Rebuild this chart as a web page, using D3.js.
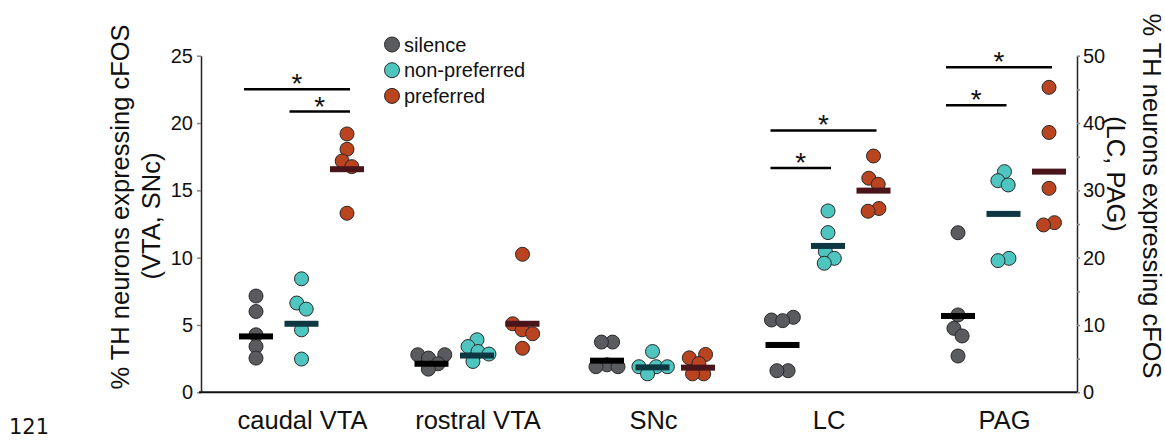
<!DOCTYPE html>
<html>
<head>
<meta charset="utf-8">
<script src="https://cdn.jsdelivr.net/npm/d3@7"></script>
<style>
  html, body { margin: 0; padding: 0; background: #fff; }
  svg { display: block; }
  text { font-family: "Liberation Sans", Arial, Helvetica, sans-serif; fill: #111; }
</style>
</head>
<body>
<svg id="chart" width="1165" height="440"></svg>
<script>
// Brain regions along the x axis and the three stimulus conditions
const categories = ["caudal VTA", "rostral VTA", "SNc", "LC", "PAG"];
const series = ["silence", "non-preferred", "preferred"];
// Which y axis each region is read against
const regionAxis = ["left", "left", "left", "right", "right"];

// Per-animal % of TH neurons expressing cFOS, one inner array per region
const silenceValues = [
  [7.15, 6.0, 4.27, 3.4, 2.54],
  [2.79, 2.79, 2.54, 2.12, 1.72],
  [3.73, 3.73, 2.04, 1.9, 1.9],
  [11.14, 10.74, 10.64, 3.21, 3.21],
  [23.7, 11.49, 9.5, 8.37, 5.39]
];
const nonPreferredValues = [
  [8.43, 6.63, 6.18, 4.64, 2.47],
  [3.9, 3.4, 3.03, 2.84, 2.29],
  [3.03, 1.9, 1.9, 1.9, 1.37],
  [26.94, 23.72, 20.9, 19.9, 19.17],
  [32.78, 31.44, 30.8, 19.9, 19.56]
];
const preferredValues = [
  [19.19, 18.05, 17.18, 16.76, 13.3],
  [10.25, 5.09, 4.64, 4.35, 3.27],
  [2.81, 2.56, 2.14, 1.37, 1.37],
  [35.1, 31.8, 30.9, 27.3, 26.9],
  [45.3, 38.6, 30.3, 25.2, 24.86]
];

// Group means shown as horizontal bars
const silenceMeans = [4.15, 2.12, 2.35, 7.03, 11.34];
const nonPreferredMeans = [5.09, 2.73, 1.85, 21.74, 26.5];
const preferredMeans = [16.57, 5.09, 1.83, 29.96, 32.78];

// Tick values for both y axes
const leftTicks = [0, 5, 10, 15, 20, 25];
const rightTicks = [0, 5, 10, 15, 20, 25, 30, 35, 40, 45, 50];

// Significant pairwise comparisons: region, pair of conditions, bracket height (axis units)
const comparisons = [
  { region: "caudal VTA", from: "silence", to: "preferred", level: 22.5 },
  { region: "caudal VTA", from: "non-preferred", to: "preferred", level: 20.85 },
  { region: "LC", from: "silence", to: "preferred", level: 38.9 },
  { region: "LC", from: "silence", to: "non-preferred", level: 33.3 },
  { region: "PAG", from: "silence", to: "preferred", level: 48.3 },
  { region: "PAG", from: "silence", to: "non-preferred", level: 42.65 }
];

const valuesBySeries = [silenceValues, nonPreferredValues, preferredValues];
const meansBySeries = [silenceMeans, nonPreferredMeans, preferredMeans];

const dotFill = { "silence": "#5a5b5e", "non-preferred": "#4fc5c0", "preferred": "#ba4320" };
const meanFill = { "silence": "#000000", "non-preferred": "#0d3842", "preferred": "#4a151a" };

const svg = d3.select("#chart");
const frame = { left: 201, right: 1077, top: 55.7, bottom: 392.3 };

const yLeft = d3.scaleLinear().domain([0, 25]).range([frame.bottom, frame.top]);
const yRight = d3.scaleLinear().domain([0, 50]).range([frame.bottom, frame.top]);
const x = d3.scalePoint().domain(categories).range([302, 1004]);
const xSub = d3.scalePoint().domain(series).range([-46, 45]);
const yFor = region => regionAxis[categories.indexOf(region)] === "left" ? yLeft : yRight;

// Left axis
const gLeft = svg.append("g")
  .attr("transform", `translate(${frame.left},0)`)
  .call(d3.axisLeft(yLeft).tickValues(leftTicks).tickSize(4).tickSizeOuter(0).tickPadding(4));
gLeft.select(".domain").attr("stroke", "#222").attr("stroke-width", 1.5);
gLeft.selectAll(".tick line").attr("stroke", "#888").attr("stroke-width", 1.5);
gLeft.selectAll(".tick text").style("font-size", "20px").attr("fill", "#111");

// Right axis: ticks every 5, labels every 10
const gRight = svg.append("g")
  .attr("transform", `translate(${frame.right},0)`)
  .call(d3.axisRight(yRight).tickValues(rightTicks).tickSize(3).tickSizeOuter(0).tickPadding(3)
    .tickFormat(d => d % 10 === 0 ? d : ""));
gRight.select(".domain").attr("stroke", "#222").attr("stroke-width", 1.5);
gRight.selectAll(".tick line").attr("stroke", "#888").attr("stroke-width", 1.5);
gRight.selectAll(".tick text").style("font-size", "20px").attr("fill", "#111");

// Baseline and region labels
svg.append("line")
  .attr("x1", frame.left - 2).attr("x2", frame.right)
  .attr("y1", yLeft(0)).attr("y2", yLeft(0))
  .attr("stroke", "#111").attr("stroke-width", 2);

const gX = svg.append("g")
  .attr("transform", `translate(0,${frame.bottom})`)
  .call(d3.axisBottom(x).tickSize(0).tickPadding(19));
gX.select(".domain").remove();
gX.selectAll(".tick text").style("font-size", "25.5px").attr("fill", "#111");

// Beeswarm offsets: y fixed at the value, x relaxed around the column centre
function swarm(values, yScale) {
  const nodes = values.map(v => ({ v, fy: yScale(v) }));
  const sim = d3.forceSimulation(nodes)
    .force("x", d3.forceX(0).strength(0.12))
    .force("collide", d3.forceCollide(5.6).iterations(3))
    .stop();
  for (let i = 0; i < 300; i++) sim.tick();
  return nodes;
}

const gDots = svg.append("g");
const gMeans = svg.append("g");

categories.forEach((region, ci) => {
  const yScale = yFor(region);
  series.forEach((s, si) => {
    const cx = x(region) + xSub(s);
    const nodes = swarm(valuesBySeries[si][ci], yScale);
    gDots.selectAll(null)
      .data(nodes)
      .join("circle")
      .attr("cx", d => cx + d.x)
      .attr("cy", d => d.fy)
      .attr("r", 7)
      .attr("fill", dotFill[s])
      .attr("stroke", "#2a2a2a")
      .attr("stroke-width", 1);
    gMeans.append("rect")
      .attr("x", cx - 17)
      .attr("y", yScale(meansBySeries[si][ci]) - 3)
      .attr("width", 34)
      .attr("height", 6)
      .attr("fill", meanFill[s]);
  });
});

// Significance brackets
const gSig = svg.append("g");
comparisons.forEach(c => {
  const yScale = yFor(c.region);
  const x1 = x(c.region) + xSub(c.from) - 12;
  const x2 = x(c.region) + xSub(c.to) + 3;
  const yy = yScale(c.level);
  gSig.append("line")
    .attr("x1", x1).attr("x2", x2).attr("y1", yy).attr("y2", yy)
    .attr("stroke", "#000").attr("stroke-width", 2.5);
  gSig.append("text")
    .attr("x", (x1 + x2) / 2).attr("y", yy + 4)
    .attr("text-anchor", "middle")
    .style("font-size", "28px")
    .text("*");
});

// Legend
const gLegend = svg.append("g").attr("transform", "translate(392,44.5)");
series.forEach((s, i) => {
  const row = gLegend.append("g").attr("transform", `translate(0,${i * 25.7})`);
  row.append("circle").attr("r", 7.5).attr("fill", dotFill[s]).attr("stroke", "#2a2a2a").attr("stroke-width", 1);
  row.append("text").attr("x", 12).attr("y", 7).style("font-size", "20px").text(s);
});

// Axis titles
const leftTitle = svg.append("g").style("font-size", "25.5px");
leftTitle.append("text")
  .attr("transform", "translate(129,207) rotate(-90)")
  .attr("text-anchor", "middle")
  .text("% TH neurons expressing cFOS");
leftTitle.append("text")
  .attr("transform", "translate(160,216) rotate(-90)")
  .attr("text-anchor", "middle")
  .text("(VTA, SNc)");

const rightTitle = svg.append("g").style("font-size", "25.5px");
rightTitle.append("text")
  .attr("transform", "translate(1143,196) rotate(90)")
  .attr("text-anchor", "middle")
  .text("% TH neurons expressing cFOS");
rightTitle.append("text")
  .attr("transform", "translate(1107,174) rotate(90)")
  .attr("text-anchor", "middle")
  .text("(LC, PAG)");

// Page number
svg.append("text")
  .attr("x", 9).attr("y", 434)
  .style("font-family", "'DejaVu Sans', sans-serif")
  .style("font-size", "21px")
  .attr("fill", "#222")
  .text("121");
</script>
</body>
</html>
